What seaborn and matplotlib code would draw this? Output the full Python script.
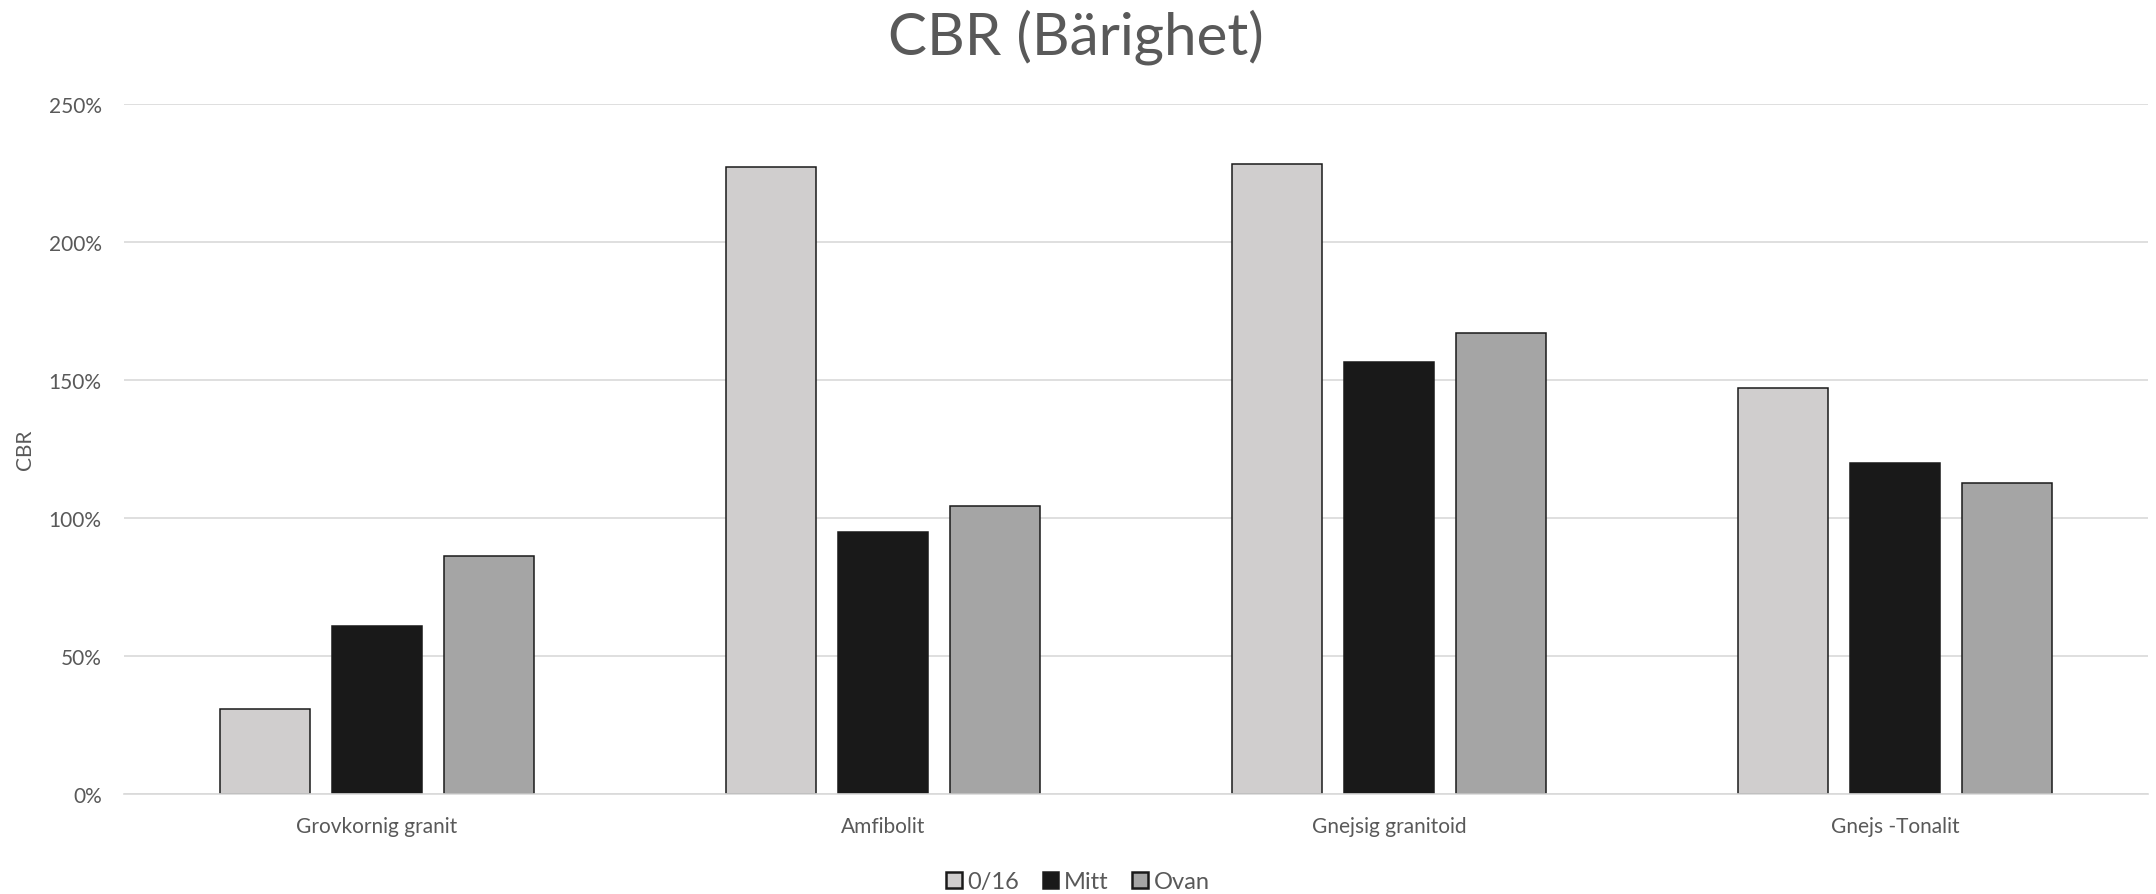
import numpy as np
import pandas as pd
import matplotlib
matplotlib.use("Agg")
import matplotlib.pyplot as plt
from matplotlib.ticker import PercentFormatter
import seaborn as sns

sns.set_style("whitegrid")
plt.rcParams['font.family'] = ['Lato', 'DejaVu Sans']

# data (CBR as fraction, 1.0 = 100%)
categories = ["Grovkornig granit", "Amfibolit", "Gnejsig granitoid", "Gnejs -Tonalit"]
series = ["0/16", "Mitt", "Ovan"]
cbr_016 = [0.309, 2.270, 2.280, 1.470]
cbr_mitt = [0.609, 0.950, 1.563, 1.197]
cbr_ovan = [0.861, 1.042, 1.670, 1.127]
colors = ["#D0CECE", "#191919", "#A5A5A5"]
text_col = "#595959"

df = pd.DataFrame({
    "Bergart": categories * 3,
    "Serie": np.repeat(series, len(categories)),
    "CBR": cbr_016 + cbr_mitt + cbr_ovan,
})

fig, ax = plt.subplots(figsize=(21.56, 8.95), dpi=100)
fig.subplots_adjust(left=0.0575, right=0.9963, bottom=0.1117, top=0.8832)

sns.barplot(data=df, x="Bergart", y="CBR", hue="Serie", order=categories,
            hue_order=series, palette=colors, width=0.665, gap=0.2,
            edgecolor="#1a1a1a", linewidth=1.1, ax=ax)

ax.set_xlim(-0.5, 3.5)
ax.set_ylim(0, 2.5)
ax.set_yticks([0, 0.5, 1.0, 1.5, 2.0, 2.5])
ax.yaxis.set_major_formatter(PercentFormatter(1.0, decimals=0))
ax.grid(axis="y", color="#d9d9d9", lw=1.2)
ax.grid(axis="x", visible=False)
ax.set_axisbelow(True)
for s in ["left", "right", "top"]:
    ax.spines[s].set_visible(False)
ax.spines["bottom"].set_color("#d9d9d9")
ax.spines["bottom"].set_linewidth(1.2)

ax.tick_params(axis="y", length=0, pad=16, labelsize=15, labelcolor=text_col)
ax.tick_params(axis="x", length=0, pad=16, labelsize=15, labelcolor=text_col)

ax.set_xlabel("")
ax.set_ylabel("CBR", fontsize=15, color=text_col)
ax.yaxis.set_label_coords(-0.044, 0.5)

fig.suptitle("CBR (Bärighet)", x=0.499, y=0.958, va="center",
             fontsize=42, color=text_col)

handles, labels = ax.get_legend_handles_labels()
for h in handles:
    h.set_linewidth(1.8)
ax.legend(handles, labels, loc="center", bbox_to_anchor=(0.5, 0.0135),
          bbox_transform=fig.transFigure, ncol=3, frameon=False,
          fontsize=17, labelcolor=text_col, handlelength=0.65,
          handleheight=0.65, handletextpad=0.25, columnspacing=1.0)

plt.savefig("out.png", dpi=100)
plt.close()
